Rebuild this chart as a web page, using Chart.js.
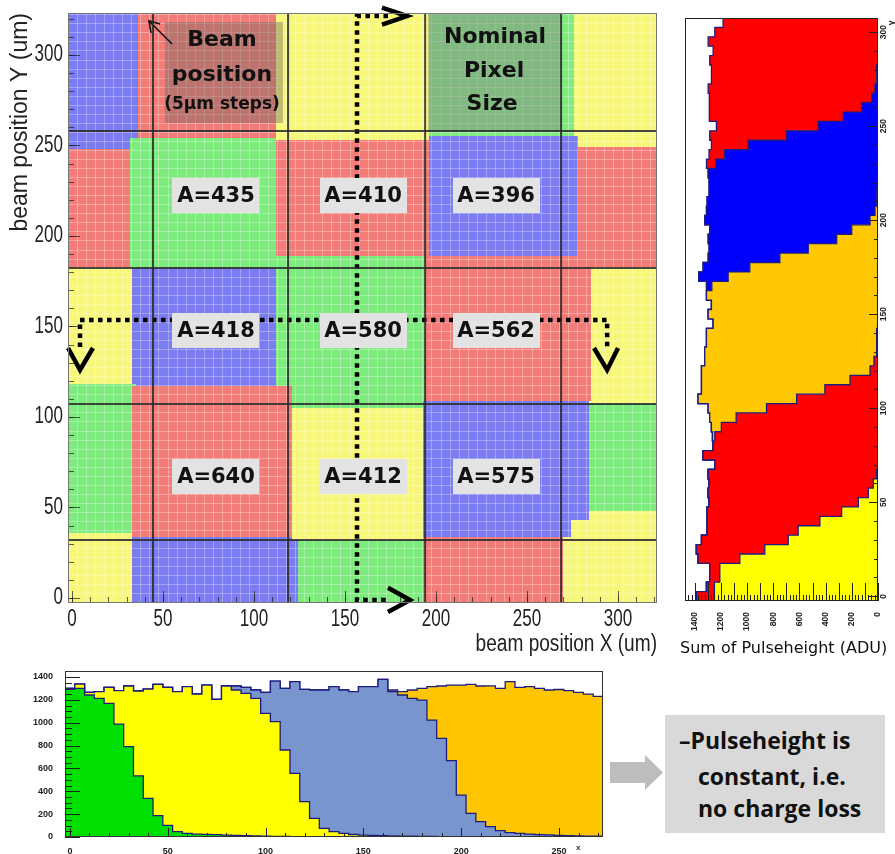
<!DOCTYPE html>
<html>
<head>
<meta charset="utf-8">
<script src="https://cdn.jsdelivr.net/npm/chart.js@4.4.0/dist/chart.umd.min.js"></script>
<style>
  body { margin: 0; background: #fff; width: 895px; height: 854px; position: relative; overflow: hidden; }
  .abs { position: absolute; }
  #sumLabel { left: 680px; top: 638px; font: 16px 'DejaVu Sans', sans-serif; color: #111; white-space: nowrap; }
  #noteBox { left: 665px; top: 715px; width: 220px; height: 118px; background: #d9d9d9; }
  .noteLine { font: bold 23px 'Open Sans', sans-serif; color: #111; white-space: nowrap; line-height: 23px; }
  #grayArrow { left: 610px; top: 755px; width: 53px; height: 35px; background: #bdbdbd;
    clip-path: polygon(0 20%, 66% 20%, 66% 0, 100% 50%, 66% 100%, 66% 80%, 0 80%); }
  #xName { left: 576px; top: 843px; font: bold 8px 'Liberation Sans', sans-serif; color: #333; }
</style>
</head>
<body>
<div class="abs" style="left:0;top:0"><canvas id="map-chart" width="665" height="658"></canvas></div>
<div class="abs" style="left:670px;top:0"><canvas id="y-profile-chart" width="225" height="660"></canvas></div>
<div class="abs" style="left:0;top:658px"><canvas id="x-profile-chart" width="615" height="196"></canvas></div>
<div id="sumLabel" class="abs">Sum of Pulseheight (ADU)</div>
<div id="grayArrow" class="abs"></div>
<div id="noteBox" class="abs"></div>
<div class="abs noteLine" style="left:679px;top:729px">–Pulseheight is</div>
<div class="abs noteLine" style="left:698px;top:765px">constant, i.e.</div>
<div class="abs noteLine" style="left:698px;top:797px">no charge loss</div>
<div id="xName" class="abs">x</div>
<script>
const binWidth = 5;

// tick labels
const mapTicks = [0, 50, 100, 150, 200, 250, 300];
const yProfilePosTicks = [0, 50, 100, 150, 200, 250, 300];
const yProfileAduTicks = [0, 200, 400, 600, 800, 1000, 1200, 1400];
const xProfilePosTicks = [0, 50, 100, 150, 200, 250];
const xProfileAduTicks = [0, 200, 400, 600, 800, 1000, 1200, 1400];

// main map: areas where each of the 4 readout pixels sees the beam (um)
const regionColor = ['B','R','Y','G','Y', 'R','G','R','B','R', 'Y','B','G','R','Y', 'Y','B','G','R','Y', 'G','R','Y','B','G', 'Y'];
const regionX0 = [-3,36,112,196,276, -3,32,112,196,278, -3,33,112,194,285, -3,33,124,193,270, -3,33,121,193,284, 274];
const regionX1 = [36,112,196,276,322, 32,112,196,278,322, 33,112,194,285,322, 33,124,193,270,322, 35,121,193,284,322, 284];
const regionY0 = [248.1,254.2,253.2,255.2,249.1, 183.1,182.1,189.2,189.2,183.1, 118.1,117.1,104.9,109.0,107.9, -4,-4,-4,-4,-4, 35.8,33.8,31.8,33.8,48.0, 33.8];
const regionY1 = [324,324,324,324,324, 248.1,254.2,253.2,255.2,249.1, 183.1,182.1,189.2,189.2,183.1, 35.8,33.8,31.8,33.8,48.0, 118.1,117.1,104.9,109.0,107.9, 43.0];

// nominal pixel edges (um)
const pixelEdgeX = [44.5, 118.7, 194.0, 268.7];
const pixelEdgeY = [32.0, 107.2, 182.3, 258.0];

const cellLabel = ['A=435','A=410','A=396','A=418','A=580','A=562','A=640','A=412','A=575'];
const cellLabelX = [79.1, 159.9, 233.0, 79.1, 159.9, 233.0, 79.1, 159.9, 233.0];
const cellLabelY = [222.1, 222.1, 222.1, 147.5, 147.5, 147.5, 66.9, 66.9, 66.9];

const noteBoxX0 = [51.0, 195.6];
const noteBoxX1 = [115.9, 268.7];
const noteBoxY0 = [262.4, 257.5];
const noteBoxY1 = [318.2, 323.2];
const noteText = ['Beam', 'position', '(5µm steps)', 'Nominal', 'Pixel', 'Size'];
const noteTextX = [82.4, 82.4, 82.4, 232.4, 231.9, 230.8];
const noteTextY = [308.3, 289.0, 272.4, 309.9, 291.2, 273.0];

// dotted scan paths and their arrow heads (um)
const scanVX = [173.6, 156.6, 156.6, 173.6];
const scanVY = [321.5, 321.5, -1.1, -1.1];
const scanHX = [4.4, 4.4, 294.0, 294.0];
const scanHY = [138.7, 153.6, 153.6, 138.7];
const headTopX = [170.3, 184.1, 170.3], headTopY = [326.2, 321.5, 316.8];
const headBotX = [173.6, 185.7, 173.6], headBotY = [5.6, -1.1, -7.8];
const headLeftX = [-2.2, 4.4, 11.5], headLeftY = [138.1, 126.0, 138.1];
const headRightX = [286.8, 294.0, 300.0], headRightY = [138.1, 126.0, 138.1];
const pointerX = [55.0, 42.3], pointerY = [306.1, 318.8];
const pointerHeadX = [43.4, 42.3, 48.4], pointerHeadY = [312.2, 318.8, 317.1];

// vertical scan (x ~ 156um): pulse height per pixel, bins centred at 0,5,...,305 um
const yProfileYellow = [1250,1250,1209,1209,1056,865,686,610,444,278,150,74,36,10,5,3,2,1,
  0,0,0,0,0,0,0,0,0,0,0,0,0,0,0,0,0,0,0,0,0,0,0,0,0,0,0,0,0,0,0,0,0,0,0,0,0,0,0,0,0,0,0,0];
const yProfileRed = [138,61,77,77,319,523,663,696,862,1028,1141,1224,1255,1288,1242,1334,1258,1246,1197,1084,
  852,622,406,214,61,31,15,10,8,6,5,4,3,2,2,1,
  0,0,0,0,0,0,0,0,0,0,0,0,0,0,0,0,0,0,0,0,0,0,0,0,0,0];
const yProfileGold = [0,0,0,0,0,0,0,0,0,0,0,0,0,0,0,0,0,
  18,76,202,446,753,943,1135,1288,1293,1309,1301,1303,1254,1293,1269,1308,1268,1143,979,750,
  533,316,201,61,23,12,8,5,3,2,1,
  0,0,0,0,0,0,0,0,0,0,0,0,0,0];
const yProfileBlue = [0,0,0,0,0,0,0,0,0,0,0,0,0,0,0,0,0,0,0,0,0,0,0,0,0,0,0,0,0,0,0,0,0,
  41,225,357,548,758,982,1085,1263,1288,1294,1283,1286,1295,1238,1170,992,699,457,265,125,
  48,23,12,8,5,3,2,1,1];
const yProfileRed2 = [0,0,0,0,0,0,0,0,0,0,0,0,0,0,0,0,0,0,0,0,0,0,0,0,0,0,0,0,0,0,0,0,0,0,0,0,0,0,0,0,0,0,0,0,0,0,
  71,120,281,587,778,1026,1166,1238,1275,1261,1265,1281,1257,1296,1246,1183];

// horizontal scan (y ~ 151um): bins centred at 0,5,...,270 um
const xProfileGreen = [1292,1300,1242,1213,1169,988,790,534,338,187,102,47,32,26,23,20,16,13,11,9,7,6,5,4,3,2,2,1,1,
  0,0,0,0,0,0,0,0,0,0,0,0,0,0,0,0,0,0,0,0,0,0,0,0,0,0];
const xProfileYellow = [8,38,23,58,140,292,531,743,956,1148,1207,1224,1283,1225,1306,1184,1305,
  1273,1246,1204,1075,1003,756,553,306,161,74,46,31,
  22,17,14,12,10,8,7,6,5,4,3,3,2,2,1,1,
  0,0,0,0,0,0,0,0,0,0];
const xProfileBlue = [0,0,0,0,0,0,0,0,0,0,0,0,0,0,0,0,0,
  35,52,73,183,355,539,802,983,1123,1210,1268,1254,1249,1298,1301,1367,
  1261,1234,1206,1192,1018,859,665,364,205,132,89,54,38,32,26,20,18,15,12,10,8,8];
const xProfileGold = [0,0,0,0,0,0,0,0,0,0,0,0,0,0,0,0,0,0,0,0,0,0,0,0,0,0,0,0,0,0,0,0,0,
  15,29,73,102,292,458,661,962,1128,1187,1232,1245,1321,1277,1289,1280,1268,1275,1268,1255,1242,1222];

function getRegionColor(c) {
    if (c === 'R') return '#f47c78';
    if (c === 'G') return '#7deb7d';
    if (c === 'B') return '#7c7cf2';
    return '#f7f77c';
}

function pairs(xs, ys) {
    return xs.map((x, i) => ({ x: x, y: ys[i] }));
}

function fixedTicks(values) {
    return s => { s.ticks = values.map(v => ({ value: v })); };
}

// histogram outlines of a stack, as step lines through the bin edges
function buildStack(seriesList, firstCenter, horizontal) {
    const running = seriesList[0].map(() => 0);
    return seriesList.map(values => {
        const pts = [];
        values.forEach((v, i) => {
            running[i] += v;
            const lo = firstCenter + i * binWidth - binWidth / 2;
            const hi = lo + binWidth;
            if (horizontal) {
                pts.push({ x: running[i], y: lo }, { x: running[i], y: hi });
            } else {
                pts.push({ x: lo, y: running[i] }, { x: hi, y: running[i] });
            }
        });
        return pts;
    });
}

const framePlugin = {
    id: 'frame',
    afterDatasetsDraw(chart, args, opts) {
        const { ctx, chartArea: a } = chart;
        ctx.save();
        ctx.strokeStyle = opts.markColor || '#222';
        ctx.lineWidth = 1;
        (opts.marks || []).forEach(m => {
            const s = chart.scales[m.axis];
            for (let v = Math.ceil(s.min / m.step) * m.step; v <= s.max; v += m.step) {
                const p = Math.round(s.getPixelForValue(v)) + 0.5;
                ctx.beginPath();
                if (m.edge === 'bottom') { ctx.moveTo(p, a.bottom); ctx.lineTo(p, a.bottom - m.len); }
                if (m.edge === 'left') { ctx.moveTo(a.left, p); ctx.lineTo(a.left + m.len, p); }
                if (m.edge === 'right') { ctx.moveTo(a.right, p); ctx.lineTo(a.right - m.len, p); }
                ctx.stroke();
            }
        });
        ctx.strokeStyle = opts.color || '#333';
        ctx.strokeRect(a.left + 0.5, a.top + 0.5, a.right - a.left - 1, a.bottom - a.top - 1);
        ctx.restore();
    }
};

const mapPlugin = {
    id: 'mapCells',
    beforeDatasetsDraw(chart) {
        const { ctx, chartArea: a, scales: { x, y } } = chart;
        ctx.save();
        ctx.beginPath();
        ctx.rect(a.left, a.top, a.right - a.left, a.bottom - a.top);
        ctx.clip();
        regionColor.forEach((c, i) => {
            const x0 = Math.round(x.getPixelForValue(regionX0[i]));
            const x1 = Math.round(x.getPixelForValue(regionX1[i]));
            const y0 = Math.round(y.getPixelForValue(regionY0[i]));
            const y1 = Math.round(y.getPixelForValue(regionY1[i]));
            ctx.fillStyle = getRegionColor(c);
            ctx.fillRect(x0, y1, x1 - x0, y0 - y1);
        });
        // 5um scan steps show as a light grid
        ctx.strokeStyle = 'rgba(255,255,255,0.3)';
        ctx.lineWidth = 1;
        for (let v = 0; v <= 325; v += binWidth) {
            const px = Math.round(x.getPixelForValue(v - 2.5)) + 0.5;
            const py = Math.round(y.getPixelForValue(v - 2.5)) + 0.5;
            ctx.beginPath(); ctx.moveTo(px, a.top); ctx.lineTo(px, a.bottom); ctx.stroke();
            ctx.beginPath(); ctx.moveTo(a.left, py); ctx.lineTo(a.right, py); ctx.stroke();
        }
        const boxFill = ['rgba(112,104,98,0.42)', 'rgba(132,138,132,0.5)'];
        noteBoxX0.forEach((v, i) => {
            const x0 = x.getPixelForValue(v), x1 = x.getPixelForValue(noteBoxX1[i]);
            const y0 = y.getPixelForValue(noteBoxY0[i]), y1 = y.getPixelForValue(noteBoxY1[i]);
            ctx.fillStyle = boxFill[i];
            ctx.fillRect(x0, y1, x1 - x0, y0 - y1);
        });
        ctx.restore();
    },
    afterDatasetsDraw(chart) {
        const { ctx, scales: { x, y } } = chart;
        ctx.save();
        ctx.textAlign = 'center';
        ctx.textBaseline = 'middle';
        cellLabel.forEach((t, i) => {
            const cx = x.getPixelForValue(cellLabelX[i]);
            const cy = y.getPixelForValue(cellLabelY[i]);
            ctx.fillStyle = '#e3e3e3';
            ctx.fillRect(Math.round(cx - 43.5), Math.round(cy - 17.5), 87, 35);
            ctx.fillStyle = '#111';
            ctx.font = "bold 21px 'DejaVu Sans', sans-serif";
            ctx.fillText(t, cx, cy + 1);
        });
        noteText.forEach((t, i) => {
            ctx.fillStyle = '#111';
            ctx.font = i === 2 ? "bold 17px 'DejaVu Sans', sans-serif" : "bold 22px 'DejaVu Sans', sans-serif";
            ctx.fillText(t, x.getPixelForValue(noteTextX[i]), y.getPixelForValue(noteTextY[i]));
        });
        ctx.restore();
    },
    // tick labels in a narrow face, as in the ROOT canvas
    afterDraw(chart) {
        const { ctx, chartArea: a, scales: { x, y } } = chart;
        ctx.save();
        ctx.fillStyle = '#222';
        ctx.font = "23px 'Liberation Sans', Arial, sans-serif";
        ctx.textBaseline = 'middle';
        mapTicks.forEach(v => {
            ctx.save();
            ctx.translate(x.getPixelForValue(v), a.bottom + 17);
            ctx.scale(0.74, 1);
            ctx.textAlign = 'center';
            ctx.fillText(String(v), 0, 0);
            ctx.restore();
            ctx.save();
            ctx.translate(a.left - 5, y.getPixelForValue(v));
            ctx.scale(0.74, 1);
            ctx.textAlign = 'right';
            ctx.fillText(String(v), 0, 0);
            ctx.restore();
        });
        ctx.save();
        ctx.translate(a.right, a.bottom + 42);
        ctx.scale(0.83, 1);
        ctx.textAlign = 'right';
        ctx.fillText('beam position X (um)', 0, 0);
        ctx.restore();
        ctx.restore();
    }
};

const yProfileLabels = {
    id: 'yProfileLabels',
    afterDraw(chart) {
        const { ctx, chartArea: a, scales: { y } } = chart;
        ctx.save();
        ctx.fillStyle = '#222';
        ctx.font = "bold 8.5px 'Liberation Sans', sans-serif";
        ctx.textAlign = 'center';
        ctx.textBaseline = 'middle';
        yProfilePosTicks.forEach(v => {
            ctx.save();
            ctx.translate(a.right + 6, y.getPixelForValue(v));
            ctx.rotate(-Math.PI / 2);
            ctx.fillText(String(v), 0, 0);
            ctx.restore();
        });
        ctx.save();
        ctx.translate(a.right + 14, a.top + 5);
        ctx.rotate(-Math.PI / 2);
        ctx.fillText('y', 0, 0);
        ctx.restore();
        ctx.restore();
    }
};

function main() {
    const mapCanvas = document.querySelector('#map-chart');
    const yProfileCanvas = document.querySelector('#y-profile-chart');
    const xProfileCanvas = document.querySelector('#x-profile-chart');

    const lineSet = (pts, color, width, dash) => ({
        data: pts, showLine: true, pointRadius: 0, borderColor: color, borderWidth: width,
        borderDash: dash || [], clip: false, tension: 0, borderCapStyle: 'butt', borderJoinStyle: 'miter'
    });

    const mapSets = [];
    pixelEdgeX.forEach(v => mapSets.push(lineSet([{ x: v, y: -2.8 }, { x: v, y: 323.2 }], 'rgba(40,40,40,0.85)', 2)));
    pixelEdgeY.forEach(v => mapSets.push(lineSet([{ x: -2.2, y: v }, { x: 321.4, y: v }], 'rgba(40,40,40,0.85)', 2)));
    mapSets.push(lineSet(pairs(scanVX, scanVY), '#000', 4.5, [4.5, 4.5]));
    mapSets.push(lineSet(pairs(scanHX, scanHY), '#000', 4.5, [4.5, 4.5]));
    [[headTopX, headTopY], [headBotX, headBotY], [headLeftX, headLeftY], [headRightX, headRightY]]
        .forEach(h => mapSets.push(lineSet(pairs(h[0], h[1]), '#000', 4.5)));
    mapSets.push(lineSet(pairs(pointerX, pointerY), '#111', 1.6));
    mapSets.push(lineSet(pairs(pointerHeadX, pointerHeadY), '#111', 1.6));

    new Chart(mapCanvas.getContext('2d'), {
        type: 'scatter',
        data: { datasets: mapSets },
        options: {
            responsive: false, animation: false, events: [],
            layout: { padding: { left: 0, top: 13, right: 8, bottom: 0 } },
            plugins: {
                legend: { display: false }, tooltip: { enabled: false },
                frame: {
                    color: '#777', markColor: 'rgba(30,30,30,0.7)',
                    marks: [
                        { axis: 'x', edge: 'bottom', step: 10, len: 6 }, { axis: 'x', edge: 'bottom', step: 50, len: 12 },
                        { axis: 'y', edge: 'left', step: 10, len: 6 }, { axis: 'y', edge: 'left', step: 50, len: 12 }
                    ]
                }
            },
            scales: {
                x: {
                    type: 'linear', min: -2.2, max: 321.4,
                    grid: { display: false }, border: { display: false },
                    afterFit: s => { s.height = 55; },
                    afterBuildTicks: fixedTicks(mapTicks),
                    ticks: { display: false }
                },
                y: {
                    type: 'linear', min: -2.8, max: 323.2,
                    grid: { display: false }, border: { display: false },
                    afterFit: s => { s.width = 68; },
                    afterBuildTicks: fixedTicks(mapTicks),
                    ticks: { display: false },
                    title: { display: true, text: 'beam position Y (um)', align: 'end', color: '#222',
                        padding: { top: 9, bottom: 0 }, font: { family: "'Liberation Sans', Arial, sans-serif", size: 23, lineHeight: 1 } }
                }
            }
        },
        plugins: [mapPlugin, framePlugin]
    });

    // vertical scan profile, drawn sideways
    const yColors = ['#ffff00', '#ff0000', '#ffc800', '#0000ff', '#ff0000'];
    const yStack = buildStack([yProfileYellow, yProfileRed, yProfileGold, yProfileBlue, yProfileRed2], 0, true);
    new Chart(yProfileCanvas.getContext('2d'), {
        type: 'line',
        data: {
            datasets: yStack.map((pts, i) => ({
                data: pts, fill: i === 0 ? 'origin' : '-1', backgroundColor: yColors[i],
                borderColor: '#1c1c80', borderWidth: 1.3, pointRadius: 0, tension: 0
            }))
        },
        options: {
            indexAxis: 'y',
            responsive: false, animation: false, events: [],
            layout: { padding: { left: 15, top: 18, right: 0, bottom: 0 } },
            plugins: {
                legend: { display: false }, tooltip: { enabled: false },
                frame: {
                    color: '#222', markColor: '#222',
                    marks: [
                        { axis: 'x', edge: 'bottom', step: 25, len: 6 }, { axis: 'x', edge: 'bottom', step: 100, len: 18 },
                        { axis: 'y', edge: 'right', step: 10, len: 4 }, { axis: 'y', edge: 'right', step: 50, len: 9 }
                    ]
                }
            },
            scales: {
                x: {
                    type: 'linear', reverse: true, min: 0, max: 1475,
                    grid: { display: false }, border: { display: false },
                    afterFit: s => { s.height = 59; },
                    afterBuildTicks: fixedTicks(yProfileAduTicks),
                    ticks: { padding: 3, minRotation: 90, maxRotation: 90, autoSkip: false, color: '#222',
                        callback: v => String(v),
                        font: { family: "'Liberation Sans', sans-serif", size: 8.5, weight: 'bold' } }
                },
                y: {
                    type: 'linear', position: 'right', min: -2.5, max: 307.5,
                    grid: { display: false }, border: { display: false },
                    afterFit: s => { s.width = 17; },
                    ticks: { display: false }
                }
            }
        },
        plugins: [framePlugin, yProfileLabels]
    });

    // horizontal scan profile
    const xColors = ['#00e000', '#ffff00', '#7896cd', '#ffc600'];
    const xStack = buildStack([xProfileGreen, xProfileYellow, xProfileBlue, xProfileGold], 0, false);
    new Chart(xProfileCanvas.getContext('2d'), {
        type: 'line',
        data: {
            datasets: xStack.map((pts, i) => ({
                data: pts, fill: i === 0 ? 'origin' : '-1', backgroundColor: xColors[i],
                borderColor: '#1c1c80', borderWidth: 1.3, pointRadius: 0, tension: 0
            }))
        },
        options: {
            responsive: false, animation: false, events: [],
            layout: { padding: { left: 0, top: 13, right: 12, bottom: 0 } },
            plugins: {
                legend: { display: false }, tooltip: { enabled: false },
                frame: {
                    color: '#333', markColor: '#222',
                    marks: [
                        { axis: 'y', edge: 'left', step: 50, len: 7 }, { axis: 'y', edge: 'left', step: 200, len: 15 },
                        { axis: 'x', edge: 'bottom', step: 10, len: 4 }, { axis: 'x', edge: 'bottom', step: 50, len: 9 }
                    ]
                }
            },
            scales: {
                x: {
                    type: 'linear', min: -2.5, max: 272.5,
                    grid: { display: false }, border: { display: false },
                    afterFit: s => { s.height = 17; },
                    afterBuildTicks: fixedTicks(xProfilePosTicks),
                    ticks: { padding: 2, maxRotation: 0, autoSkip: false, color: '#222',
                        font: { family: "'Liberation Sans', sans-serif", size: 9, weight: 'bold', lineHeight: 1 } }
                },
                y: {
                    type: 'linear', min: 0, max: 1452,
                    grid: { display: false }, border: { display: false },
                    afterFit: s => { s.width = 65; },
                    afterBuildTicks: fixedTicks(xProfileAduTicks),
                    ticks: { padding: 4, autoSkip: false, color: '#222', callback: v => String(v),
                        font: { family: "'Liberation Sans', sans-serif", size: 9, weight: 'bold' } }
                }
            }
        },
        plugins: [framePlugin]
    });
}

main();
</script>
</body>
</html>
